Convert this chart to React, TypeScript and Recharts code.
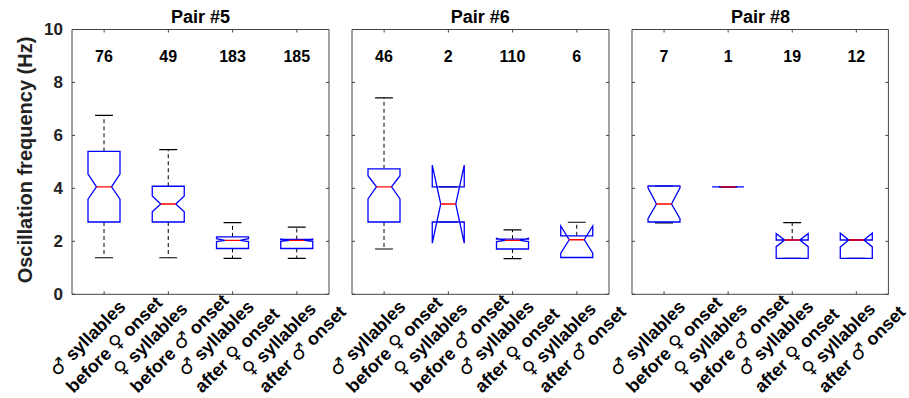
import React from 'react';
import { ComposedChart, Bar, XAxis, YAxis } from 'recharts';

const PANEL_TITLES = ['Pair #5', 'Pair #6', 'Pair #8'];
const GROUPS = [
  '♂ syllables before ♀ onset',
  '♀ syllables before ♂ onset',
  '♂ syllables after ♀ onset',
  '♀ syllables after ♂ onset',
];
const LABEL_LINE1 = ['♂ syllables', '♀ syllables', '♂ syllables', '♀ syllables'];
const LABEL_LINE2 = ['before ♀ onset', 'before ♂ onset', 'after ♀ onset', 'after ♂ onset'];
const Y_TICKS = [0, 2, 4, 6, 8, 10];
const COUNT_LEVEL = 9;

// Pair #5
const P5_N = [76, 49, 183, 185];
const P5_WHISKER_LO = [1.38, 1.38, 1.36, 1.36];
const P5_Q1 = [2.73, 2.73, 1.73, 1.73];
const P5_NOTCH_LO = [3.59, 3.12, 1.99, 2.0];
const P5_MEDIAN = [4.06, 3.41, 2.04, 2.04];
const P5_NOTCH_HI = [4.54, 3.71, 2.1, 2.09];
const P5_Q3 = [5.4, 4.08, 2.17, 2.07];
const P5_WHISKER_HI = [6.76, 5.46, 2.71, 2.54];

// Pair #6
const P6_N = [46, 2, 110, 6];
const P6_WHISKER_LO = [1.71, 2.73, 1.35, 1.39];
const P6_Q1 = [2.73, 2.73, 1.71, 1.39];
const P6_NOTCH_LO = [3.6, 1.93, 1.99, 1.55];
const P6_MEDIAN = [4.06, 3.41, 2.04, 2.06];
const P6_NOTCH_HI = [4.48, 4.88, 2.11, 2.58];
const P6_Q3 = [4.74, 4.06, 2.08, 2.21];
const P6_WHISKER_HI = [7.42, 4.06, 2.43, 2.72];

// Pair #8
const P8_N = [7, 1, 19, 12];
const P8_WHISKER_LO = [2.7, 4.06, 1.36, 1.36];
const P8_Q1 = [2.73, 4.06, 1.36, 1.36];
const P8_NOTCH_LO = [2.86, 4.06, 1.8, 1.79];
const P8_MEDIAN = [3.41, 4.06, 2.05, 2.05];
const P8_NOTCH_HI = [4.02, 4.06, 2.29, 2.31];
const P8_Q3 = [4.09, 4.06, 2.05, 2.05];
const P8_WHISKER_HI = [4.09, 4.06, 2.71, 2.05];

const AXIS = '#444';
const FONT = '"Liberation Sans", Arial, Helvetica, sans-serif';
const SYMBOL_FONT = '"DejaVu Sans", sans-serif';

function buildRows(
  n: number[], wlo: number[], q1: number[], nlo: number[],
  med: number[], nhi: number[], q3: number[], whi: number[],
) {
  return GROUPS.map((group, i) => ({
    group, n: n[i], wlo: wlo[i], q1: q1[i], nlo: nlo[i],
    med: med[i], nhi: nhi[i], q3: q3[i], whi: whi[i],
  }));
}

const PANELS = [
  buildRows(P5_N, P5_WHISKER_LO, P5_Q1, P5_NOTCH_LO, P5_MEDIAN, P5_NOTCH_HI, P5_Q3, P5_WHISKER_HI),
  buildRows(P6_N, P6_WHISKER_LO, P6_Q1, P6_NOTCH_LO, P6_MEDIAN, P6_NOTCH_HI, P6_Q3, P6_WHISKER_HI),
  buildRows(P8_N, P8_WHISKER_LO, P8_Q1, P8_NOTCH_LO, P8_MEDIAN, P8_NOTCH_HI, P8_Q3, P8_WHISKER_HI),
];

// bar spans 0..q3, so its rect gives the y scale
function NotchBox(props: any) {
  const { x, y, width, height, payload: d } = props;
  const base = y + height;
  const k = height / d.q3;
  const sy = (v: number) => base - v * k;
  const cx = x + width / 2;
  const half = width * 0.25;
  const notch = half * 0.47;
  const cap = half * 0.56;
  const L = cx - half;
  const R = cx + half;
  const pts = [
    [L, d.q1], [L, d.nlo], [cx - notch, d.med], [L, d.nhi], [L, d.q3],
    [R, d.q3], [R, d.nhi], [cx + notch, d.med], [R, d.nlo], [R, d.q1],
  ].map(([px, v]) => `${px},${sy(v)}`).join(' ');
  return (
    <g>
      {d.whi > d.q3 && (
        <line x1={cx} x2={cx} y1={sy(d.q3)} y2={sy(d.whi)} stroke="#000" strokeDasharray="4 3" />
      )}
      {d.wlo < d.q1 && (
        <line x1={cx} x2={cx} y1={sy(d.q1)} y2={sy(d.wlo)} stroke="#000" strokeDasharray="4 3" />
      )}
      <line x1={cx - cap} x2={cx + cap} y1={sy(d.whi)} y2={sy(d.whi)} stroke="#000" strokeWidth={1.2} />
      <line x1={cx - cap} x2={cx + cap} y1={sy(d.wlo)} y2={sy(d.wlo)} stroke="#000" strokeWidth={1.2} />
      <polygon points={pts} fill="none" stroke="#0000ff" strokeWidth={1.3} />
      <line x1={cx - notch} x2={cx + notch} y1={sy(d.med)} y2={sy(d.med)} stroke="#ff0000" strokeWidth={1.3} />
      <text x={cx} y={sy(COUNT_LEVEL)} dy="0.35em" textAnchor="middle" fontSize={16}
        fontWeight="bold" fontFamily={FONT} fill="#000">{d.n}</text>
    </g>
  );
}

// gender signs in a font that has them at full size
function withSymbols(s: string) {
  return s.split(/([♂♀])/).filter(Boolean).map((part, j) =>
    part === '♂' || part === '♀'
      ? <tspan key={j} fontFamily={SYMBOL_FONT} fontSize={19}>{part}</tspan>
      : <tspan key={j}>{part}</tspan>,
  );
}

function XTick(props: any) {
  const { x, y, payload } = props;
  const i = payload.index ?? GROUPS.indexOf(payload.value);
  const ax1 = x - 47, ay1 = y + 83;
  const ax2 = x - 30.5, ay2 = y + 99.5;
  const style = { fontSize: 18, fontWeight: 'bold' as const, fontFamily: FONT, fill: '#000' };
  return (
    <g>
      <line x1={x} x2={x} y1={y} y2={y - 3} stroke={AXIS} />
      <text x={ax1} y={ay1} transform={`rotate(-45 ${ax1} ${ay1})`} {...style}>{withSymbols(LABEL_LINE1[i])}</text>
      <text x={ax2} y={ay2} transform={`rotate(-45 ${ax2} ${ay2})`} {...style}>{withSymbols(LABEL_LINE2[i])}</text>
    </g>
  );
}

function TopTick(props: any) {
  const { x, y } = props;
  return <line x1={x} x2={x} y1={y} y2={y + 3} stroke={AXIS} />;
}

function YTick(props: any) {
  const { x, y, payload, showLabel } = props;
  return (
    <g>
      <line x1={x} x2={x + 3} y1={y} y2={y} stroke={AXIS} />
      {showLabel && (
        <text x={x - 9} y={y} dy="0.35em" textAnchor="end" fontSize={17} fontWeight="bold"
          fontFamily={FONT} fill="#222">{payload.value}</text>
      )}
    </g>
  );
}

function RightTick(props: any) {
  const { x, y } = props;
  return <line x1={x} x2={x - 3} y1={y} y2={y} stroke={AXIS} />;
}

const PLOTS = [
  { left: 72, width: 257, yAxisWidth: 72 },
  { left: 351.7, width: 257, yAxisWidth: 1 },
  { left: 632.3, width: 256.4, yAxisWidth: 1 },
];

function Panel({ index }: { index: number }) {
  const p = PLOTS[index];
  const showLabel = index === 0;
  return (
    <div style={{ position: 'absolute', left: p.left - p.yAxisWidth, top: 0 }}>
      <ComposedChart
        width={p.yAxisWidth + p.width + 1}
        height={398}
        data={PANELS[index]}
        margin={{ top: 28.5, right: 0, bottom: 0, left: 0 }}
        barCategoryGap="0%"
        barGap={0}
      >
        <XAxis dataKey="group" interval={0} height={103.7} tickLine={false} tickSize={0}
          tickMargin={0} tick={<XTick />} axisLine={{ stroke: AXIS }} />
        <XAxis xAxisId="top" orientation="top" dataKey="group" interval={0} height={1}
          tickLine={false} tickSize={0} tickMargin={0} tick={<TopTick />} axisLine={{ stroke: AXIS }} />
        <YAxis type="number" domain={[0, 10]} ticks={Y_TICKS} interval={0} width={p.yAxisWidth}
          allowDataOverflow tickLine={false} tickSize={0} tickMargin={0}
          tick={<YTick showLabel={showLabel} />} axisLine={{ stroke: AXIS }} />
        <YAxis yAxisId="right" orientation="right" type="number" domain={[0, 10]} ticks={Y_TICKS}
          interval={0} width={1} allowDataOverflow tickLine={false} tickSize={0} tickMargin={0}
          tick={<RightTick />} axisLine={{ stroke: AXIS }} />
        <Bar dataKey="q3" shape={<NotchBox />} isAnimationActive={false} />
      </ComposedChart>
    </div>
  );
}

export default function App() {
  return (
    <div style={{ position: 'absolute', left: 0, top: 0, width: 909, height: 398, background: '#fff',
      fontFamily: FONT, overflow: 'hidden' }}>
      <style>{'.recharts-surface{overflow:visible}'}</style>
      {PANEL_TITLES.map((t, i) => (
        <div key={t} style={{ position: 'absolute', left: PLOTS[i].left, width: PLOTS[i].width, top: 6.8,
          textAlign: 'center', fontSize: 18, fontWeight: 'bold', lineHeight: '20px', color: '#000' }}>{t}</div>
      ))}
      <div style={{ position: 'absolute', left: 25 - 150, top: 160 - 12, width: 300, height: 24,
        lineHeight: '24px', textAlign: 'center', fontSize: 20, fontWeight: 'bold', color: '#222',
        transform: 'rotate(-90deg)', whiteSpace: 'nowrap' }}>Oscillation frequency (Hz)</div>
      {PLOTS.map((_, i) => <Panel key={i} index={i} />)}
    </div>
  );
}
